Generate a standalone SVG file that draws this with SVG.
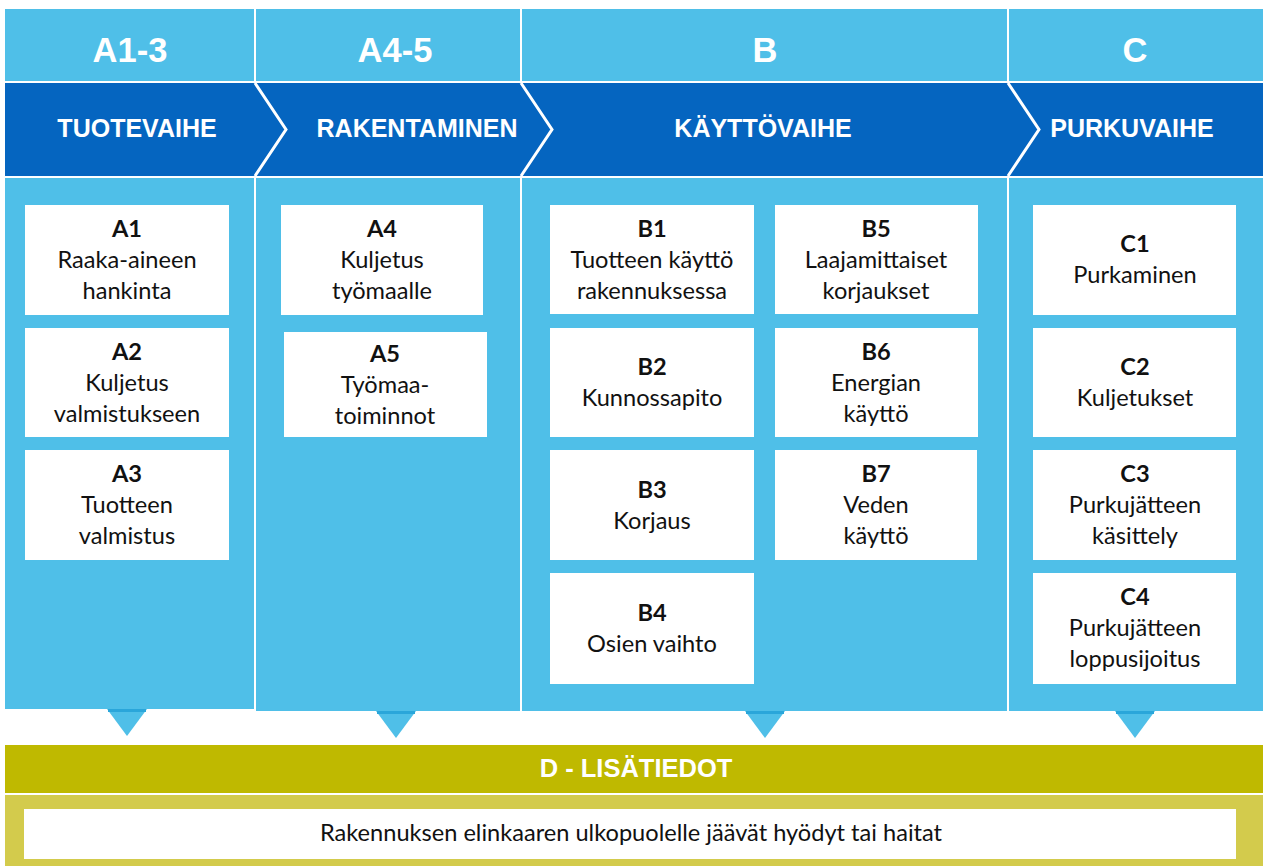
<svg xmlns="http://www.w3.org/2000/svg" width="1263" height="866" viewBox="0 0 1263 866">
<style>
.lb{fill:#4FBFE8}
.db{fill:#0565C0}
.box{fill:#FFFFFF}
.hd{font-family:"Liberation Sans",Arial,sans-serif;font-weight:bold;fill:#FFFFFF;text-anchor:middle}
.h1{font-size:34.5px}
.h2{font-size:25px}
.t{font-family:Lato,"Open Sans",sans-serif;font-size:23.6px;fill:#111111;text-anchor:middle}
.b{font-weight:bold}
.chev{fill:none;stroke:#FFFFFF;stroke-width:3}
.tri{fill:#4FBFE8}
.trt{fill:#2AA6DA}
</style>
<rect x="0" y="0" width="1263" height="866" fill="#FFFFFF"/>
<g id="headers">
<rect class="lb" x="5" y="9" width="249" height="72"/>
<rect class="lb" x="256" y="9" width="264" height="72"/>
<rect class="lb" x="522" y="9" width="485" height="72"/>
<rect class="lb" x="1009" y="9" width="254" height="72"/>
<text class="hd h1" x="130" y="62">A1-3</text>
<text class="hd h1" x="395" y="62">A4-5</text>
<text class="hd h1" x="765" y="62">B</text>
<text class="hd h1" x="1135" y="62">C</text>
</g>
<g id="phases">
<rect class="db" x="5" y="83" width="1258" height="93"/>
<polyline class="chev" points="255,83 286,129.5 255,176"/>
<polyline class="chev" points="521,83 552,129.5 521,176"/>
<polyline class="chev" points="1008,83 1039,129.5 1008,176"/>
<text class="hd h2" x="137" y="137">TUOTEVAIHE</text>
<text class="hd h2" x="417" y="137">RAKENTAMINEN</text>
<text class="hd h2" x="763" y="137">KÄYTTÖVAIHE</text>
<text class="hd h2" x="1132" y="137">PURKUVAIHE</text>
</g>
<g id="columns">
<rect class="lb" x="5" y="178" width="249" height="531"/>
<rect class="lb" x="256" y="178" width="264" height="533"/>
<rect class="lb" x="522" y="178" width="485" height="533"/>
<rect class="lb" x="1009" y="178" width="254" height="533"/>
</g>
<g id="A1"><rect class="box" x="25" y="205" width="204" height="110"/><text class="t b" x="127" y="237">A1</text><text class="t" x="127" y="268">Raaka-aineen</text><text class="t" x="127" y="299">hankinta</text></g>
<g id="A2"><rect class="box" x="25" y="328" width="204" height="109"/><text class="t b" x="127" y="360">A2</text><text class="t" x="127" y="391">Kuljetus</text><text class="t" x="127" y="422">valmistukseen</text></g>
<g id="A3"><rect class="box" x="25" y="450" width="204" height="110"/><text class="t b" x="127" y="482">A3</text><text class="t" x="127" y="513">Tuotteen</text><text class="t" x="127" y="544">valmistus</text></g>
<g id="A4"><rect class="box" x="281" y="205" width="202" height="110"/><text class="t b" x="382" y="237">A4</text><text class="t" x="382" y="268">Kuljetus</text><text class="t" x="382" y="299">työmaalle</text></g>
<g id="A5"><rect class="box" x="284" y="332" width="203" height="105"/><text class="t b" x="385" y="362">A5</text><text class="t" x="385" y="393">Työmaa-</text><text class="t" x="385" y="424">toiminnot</text></g>
<g id="B1"><rect class="box" x="550" y="205" width="204" height="109"/><text class="t b" x="652" y="237">B1</text><text class="t" x="652" y="268">Tuotteen käyttö</text><text class="t" x="652" y="299">rakennuksessa</text></g>
<g id="B2"><rect class="box" x="550" y="328" width="204" height="109"/><text class="t b" x="652" y="375">B2</text><text class="t" x="652" y="406">Kunnossapito</text></g>
<g id="B3"><rect class="box" x="550" y="450" width="204" height="110"/><text class="t b" x="652" y="498">B3</text><text class="t" x="652" y="529">Korjaus</text></g>
<g id="B4"><rect class="box" x="550" y="573" width="204" height="111"/><text class="t b" x="652" y="621">B4</text><text class="t" x="652" y="652">Osien vaihto</text></g>
<g id="B5"><rect class="box" x="775" y="205" width="203" height="109"/><text class="t b" x="876" y="237">B5</text><text class="t" x="876" y="268">Laajamittaiset</text><text class="t" x="876" y="299">korjaukset</text></g>
<g id="B6"><rect class="box" x="775" y="328" width="203" height="109"/><text class="t b" x="876" y="360">B6</text><text class="t" x="876" y="391">Energian</text><text class="t" x="876" y="422">käyttö</text></g>
<g id="B7"><rect class="box" x="775" y="450" width="202" height="110"/><text class="t b" x="876" y="482">B7</text><text class="t" x="876" y="513">Veden</text><text class="t" x="876" y="544">käyttö</text></g>
<g id="C1"><rect class="box" x="1033" y="205" width="203" height="110"/><text class="t b" x="1135" y="252">C1</text><text class="t" x="1135" y="283">Purkaminen</text></g>
<g id="C2"><rect class="box" x="1033" y="328" width="203" height="109"/><text class="t b" x="1135" y="375">C2</text><text class="t" x="1135" y="406">Kuljetukset</text></g>
<g id="C3"><rect class="box" x="1033" y="450" width="203" height="110"/><text class="t b" x="1135" y="482">C3</text><text class="t" x="1135" y="513">Purkujätteen</text><text class="t" x="1135" y="544">käsittely</text></g>
<g id="C4"><rect class="box" x="1033" y="573" width="203" height="111"/><text class="t b" x="1135" y="605">C4</text><text class="t" x="1135" y="636">Purkujätteen</text><text class="t" x="1135" y="667">loppusijoitus</text></g>
<g id="connectors">
<polygon class="tri" points="107,709 147,709 127,736"/>
<rect class="trt" x="108" y="709" width="38" height="3"/>
<polygon class="tri" points="376,711 416,711 396,738"/>
<rect class="trt" x="377" y="711" width="38" height="3"/>
<polygon class="tri" points="745,711 785,711 765,738"/>
<rect class="trt" x="746" y="711" width="38" height="3"/>
<polygon class="tri" points="1115,711 1155,711 1135,738"/>
<rect class="trt" x="1116" y="711" width="38" height="3"/>
</g>
<g id="D">
<rect x="5" y="745" width="1258" height="48" fill="#BFB900"/>
<text class="hd" style="font-size:25.5px" x="636" y="777">D - LISÄTIEDOT</text>
<rect x="5" y="795" width="1258" height="71" fill="#D3CB4C"/>
<rect class="box" x="24" y="809" width="1212" height="50"/>
<text class="t" x="631" y="841">Rakennuksen elinkaaren ulkopuolelle jäävät hyödyt tai haitat</text>
</g>
</svg>
